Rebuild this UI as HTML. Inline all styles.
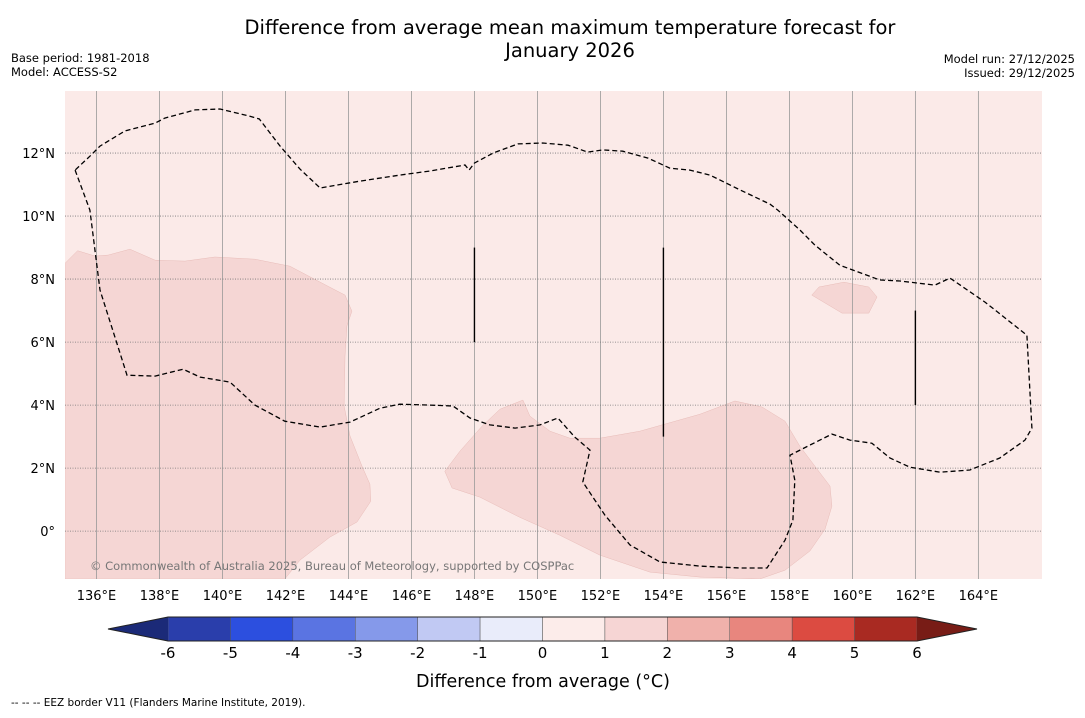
<!DOCTYPE html>
<html><head><meta charset="utf-8"><style>
body{margin:0;background:#fff;font-family:"Liberation Sans","DejaVu Sans",sans-serif;}
svg text{font-family:"DejaVu Sans","Liberation Sans",sans-serif;}
</style></head><body>
<svg id="c" width="1085" height="713" viewBox="0 0 1085 713">
<text x="570" y="34" font-size="19.5" text-anchor="middle">Difference from average mean maximum temperature forecast for</text>
<text x="570" y="57" font-size="19.5" text-anchor="middle">January 2026</text>
<text x="11" y="62" font-size="11.5">Base period: 1981-2018</text>
<text x="11" y="76" font-size="11.5">Model: ACCESS-S2</text>
<text x="1075" y="63" font-size="11.5" text-anchor="end">Model run: 27/12/2025</text>
<text x="1075" y="77" font-size="11.5" text-anchor="end">Issued: 29/12/2025</text>
<defs><clipPath id="mc"><rect x="65" y="91" width="977" height="488"/></clipPath></defs>
<g id="map" clip-path="url(#mc)"></g>
<g id="axes"></g>
<g id="cbar"></g>
<text x="543" y="687" font-size="17.5" text-anchor="middle">Difference from average (°C)</text>
<text x="11" y="706" font-size="10.5">-- -- -- EEZ border V11 (Flanders Marine Institute, 2019).</text>
</svg>
<script>
const lonTicks=[136,138,140,142,144,146,148,150,152,154,156,158,160,162,164];
const latTicks=[0,2,4,6,8,10,12];
const latLabels=["0°","2°N","4°N","6°N","8°N","10°N","12°N"];
const cbLevels=[-6,-5,-4,-3,-2,-1,0,1,2,3,4,5,6];
const cbColors=["#2a3eab","#2c4fdf","#5a74e2","#8599ea","#c1c9f3","#e9ecfa","#fcecea","#f6d5d4","#f0b1ab","#e8867e","#dc4b41","#a92a22"];
const cbLow="#1b2a78", cbHigh="#781c16";
const bgValueColor="#fbeae8";
const patchLeft=[[135,8.5],[135.4,8.9],[135.96,8.73],[136.37,8.76],[137.06,8.95],[137.86,8.6],[138.81,8.57],[139.76,8.7],[141.03,8.63],[142.14,8.41],[143.03,7.94],[143.89,7.49],[144.11,6.98],[143.95,6.51],[143.89,5.56],[143.86,3.97],[144.05,3.02],[144.43,2.06],[144.68,1.49],[144.71,0.95],[144.27,0.29],[143.41,-0.19],[142.46,-0.92],[141.98,-1.52],[135,-1.52]];
const patchRight=[[147.06,1.9],[147.54,2.54],[148.24,3.33],[148.81,3.87],[149.54,4.16],[149.76,3.65],[150.4,3.17],[151.03,2.95],[151.98,2.95],[153.25,3.17],[155.16,3.71],[156.27,4.13],[157.13,3.94],[157.86,3.49],[158.33,2.7],[158.81,2.06],[159.29,1.43],[159.35,0.79],[159.13,0.06],[158.65,-0.63],[157.86,-1.24],[157.06,-1.52],[155.16,-1.46],[153.57,-1.3],[151.98,-0.76],[150.71,-0.13],[149.44,0.44],[148.17,1.08],[147.29,1.37]];
const patchSmall=[[158.71,7.49],[158.94,7.75],[159.73,7.9],[160.52,7.75],[160.78,7.43],[160.52,6.92],[159.67,6.92]];
const eez=[[135.32,11.46],[135.79,10.19],[136.11,7.65],[136.97,4.95],[137.86,4.92],[138.75,5.14],[139.29,4.89],[140.24,4.73],[141.03,4],[141.98,3.49],[143.1,3.3],[144.05,3.46],[145,3.9],[145.63,4.03],[146.59,4],[147.32,3.97],[147.86,3.59],[148.49,3.37],[149.29,3.27],[150.08,3.37],[150.65,3.59],[151.19,2.98],[151.67,2.57],[151.44,1.56],[152.14,0.51],[152.94,-0.44],[153.89,-0.98],[155.16,-1.11],[156.43,-1.17],[157.29,-1.17],[157.86,-0.29],[158.11,0.35],[158.17,1.62],[158.02,2.41],[158.65,2.73],[159.35,3.08],[159.92,2.89],[160.62,2.79],[161.19,2.32],[161.83,2.03],[162.78,1.87],[163.73,1.94],[164.68,2.32],[165.48,2.89],[165.7,3.27],[165.54,6.22],[164.21,7.27],[163.1,8.03],[162.62,7.81],[161.51,7.94],[160.87,7.97],[159.6,8.44],[158.81,9.08],[158.33,9.56],[157.63,10.19],[157.38,10.38],[156.43,10.83],[155.48,11.3],[154.84,11.46],[154.21,11.52],[153.51,11.84],[152.71,12.06],[152.08,12.1],[151.6,12.03],[150.97,12.25],[150.17,12.32],[149.38,12.29],[148.59,12],[148,11.68],[147.83,11.46],[147.7,11.62],[146.59,11.43],[145.63,11.3],[144.37,11.11],[143.1,10.89],[142.46,11.49],[141.83,12.22],[141.17,13.08],[140.87,13.17],[139.92,13.4],[139.13,13.37],[138.17,13.11],[137.86,12.95],[136.9,12.7],[136.11,12.22],[135.79,11.9],[135.32,11.46]];
const zoneLines=[[148,9,6],[154,9,3],[162,7,4]];
const NS="http://www.w3.org/2000/svg";
const X0=65,X1=1042,Y0=91,Y1=579,LON0=135,LON1=166.02,LAT0=-1.52,LAT1=13.97;
const xs=l=>X0+(l-LON0)/(LON1-LON0)*(X1-X0);
const ys=l=>Y1-(l-LAT0)/(LAT1-LAT0)*(Y1-Y0);
function mk(t,a,p){const e=document.createElementNS(NS,t);for(const k in a)e.setAttribute(k,a[k]);p.appendChild(e);return e;}
const map=document.getElementById('map'),axes=document.getElementById('axes'),cb=document.getElementById('cbar');
let r=mk('rect',{x:X0,y:Y0,width:X1-X0,height:Y1-Y0,fill:bgValueColor},map);


const pts=a=>a.map(p=>xs(p[0]).toFixed(1)+','+ys(p[1]).toFixed(1)).join(' ');
[[patchLeft,'anomaly-patch-west'],[patchRight,'anomaly-patch-south'],[patchSmall,'anomaly-patch-east']].forEach(([p,n])=>{
 const e=mk('polygon',{points:pts(p),fill:'#f5d6d4',stroke:'#e8bcb8','stroke-width':0.5},map);
 
 
});
lonTicks.forEach(l=>{const e=mk('line',{x1:xs(l),x2:xs(l),y1:Y0,y2:Y1,stroke:'#999','stroke-width':0.8},map);
 
 });
latTicks.forEach(l=>{const e=mk('line',{x1:X0,x2:X1,y1:ys(l),y2:ys(l),stroke:'#777','stroke-width':0.8,'stroke-dasharray':'1,1.5'},map);
 
 });
let ez=mk('polyline',{points:pts(eez),fill:'none',stroke:'#000','stroke-width':1.3,'stroke-dasharray':'5,3'},map);


zoneLines.forEach(z=>{const e=mk('line',{x1:xs(z[0]),x2:xs(z[0]),y1:ys(z[1]),y2:ys(z[2]),stroke:'#000','stroke-width':1.4},map);
 
 });
let ct=mk('text',{x:90,y:570,'font-size':11.5,fill:'#777'},map);ct.textContent='© Commonwealth of Australia 2025, Bureau of Meteorology, supported by COSPPac';


lonTicks.forEach(l=>{const t=mk('text',{x:xs(l),y:600,'font-size':13,'text-anchor':'middle'},axes);t.textContent=l+'°E';
 
 });
latTicks.forEach((l,i)=>{const t=mk('text',{x:55,y:ys(l)+5,'font-size':13,'text-anchor':'end'},axes);t.textContent=latLabels[i];
 
 });
const CB0=168,CB1=917,CT=617,CBm=641;const cx=v=>CB0+(v-cbLevels[0])/(cbLevels[cbLevels.length-1]-cbLevels[0])*(CB1-CB0);
cbColors.forEach((c,i)=>{const e=mk('rect',{x:cx(cbLevels[i]),y:CT,width:cx(cbLevels[i+1])-cx(cbLevels[i]),height:CBm-CT,fill:c,stroke:'#555','stroke-width':0.5},cb);
 
 });
let lo=mk('polygon',{points:`${CB0},${CT} 108,${(CT+CBm)/2} ${CB0},${CBm}`,fill:cbLow},cb);


let hi=mk('polygon',{points:`${CB1},${CT} 977,${(CT+CBm)/2} ${CB1},${CBm}`,fill:cbHigh},cb);


let ol=mk('polygon',{points:`${CB0},${CT} ${CB1},${CT} 977,${(CT+CBm)/2} ${CB1},${CBm} ${CB0},${CBm} 108,${(CT+CBm)/2}`,fill:'none',stroke:'#222','stroke-width':1},cb);


cbLevels.forEach(v=>{const t=mk('text',{x:cx(v),y:658,'font-size':15,'text-anchor':'middle'},cb);t.textContent=v;
 
 });
</script>
</body></html>
